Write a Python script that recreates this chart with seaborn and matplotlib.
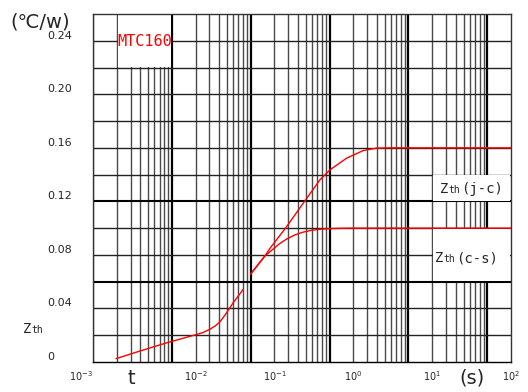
import matplotlib
matplotlib.use("Agg")
import matplotlib.pyplot as plt
import pandas as pd
import seaborn as sns

# Transient thermal impedance of the MTC160 module (time in s, Zth in °C/W)
t_start = [0.00098, 0.00197, 0.00434, 0.0098, 0.0124, 0.0152, 0.0176, 0.0204,
           0.0229, 0.0248, 0.0273, 0.0300, 0.0345, 0.0403]
z_start = [0.0025, 0.0082, 0.0144, 0.0202, 0.0220, 0.0245, 0.0268, 0.0301,
           0.0340, 0.0369, 0.0406, 0.0443, 0.0490, 0.0544]

t_jc = [0.05, 0.0759, 0.0879, 0.143, 0.232, 0.378, 0.507, 0.824, 1.34, 1.98, 2.93, 100]
z_jc = [0.0658, 0.0793, 0.0850, 0.1012, 0.1187, 0.1361, 0.1436, 0.1523, 0.1580,
        0.1598, 0.16, 0.16]

t_cs = [0.05, 0.0759, 0.118, 0.1442, 0.1823, 0.2303, 0.2995, 0.401, 0.5865, 0.908, 100]
z_cs = [0.0658, 0.0793, 0.0887, 0.0920, 0.0950, 0.0970, 0.0985, 0.0993, 0.0998,
        0.1, 0.1]

x_tick_pos = [5e-4, 1e-2, 1e-1, 1, 10, 100]
x_tick_labels = [r"$10^{-3}$", r"$10^{-2}$", r"$10^{-1}$", r"$10^{0}$", r"$10^{1}$", r"$10^{2}$"]
y_tick_pos = [0, 0.04, 0.08, 0.12, 0.16, 0.20, 0.24]
y_tick_labels = ["0", "0.04", "0.08", "0.12", "0.16", "0.20", "0.24"]

sns.set_style("white")
plt.rcParams["font.family"] = ["DejaVu Sans", "Noto Sans CJK SC"]

W, H = 528, 392
fig = plt.figure(figsize=(W / 100, H / 100), dpi=100)
ax = fig.add_axes([93 / W, 30 / H, 418 / W, 348 / H])
ax.set_xscale("log")
ax.set_xlim(5e-4, 100)
ax.set_ylim(0, 0.26)

# log-paper grid: cycles start at 5 x 10^k
for base in [5e-4, 5e-3, 5e-2, 0.5, 5, 50]:
    for m in range(1, 10):
        x = base * m
        if x >= 100:
            break
        if m == 1:
            ax.axvline(x, color="black", lw=1.6, zorder=1)
        else:
            ax.axvline(x, color="#4a4a4a", lw=1.0, zorder=1)
for i in range(1, 13):
    y = i * 0.02
    thick = i in (3, 6)
    ax.axhline(y, color="black" if thick else "#222222",
               lw=1.5 if thick else 1.0, zorder=1)

# white label panels over the grid
ax.fill_between([0.00103, 0.00488], 0.2206, 0.2594, color="white", lw=0, zorder=1.5)
ax.fill_between([10.3, 98], 0.1206, 0.1394, color="white", lw=0, zorder=1.5)
ax.fill_between([10.3, 98], 0.0606, 0.0995, color="white", lw=0, zorder=1.5)

# impedance curves
line_kw = dict(color="red", lw=1.0, estimator=None, sort=False, ax=ax, zorder=3)
sns.lineplot(data=pd.DataFrame({"t": t_start, "z": z_start}), x="t", y="z", **line_kw)
sns.lineplot(data=pd.DataFrame({"t": t_jc, "z": z_jc}), x="t", y="z", **line_kw)
sns.lineplot(data=pd.DataFrame({"t": t_cs, "z": z_cs}), x="t", y="z", **line_kw)
ax.set_xlabel("")
ax.set_ylabel("")

# ticks
ax.set_xticks(x_tick_pos, x_tick_labels)
ax.xaxis.set_minor_locator(matplotlib.ticker.NullLocator())
ax.set_yticks(y_tick_pos, y_tick_labels)
ax.tick_params(axis="x", length=0, pad=5, labelsize=7)
ax.tick_params(axis="y", length=0, pad=33, labelsize=8)
for lab in ax.get_yticklabels():
    lab.set_ha("left")
    lab.set_va("bottom")
ax.get_xticklabels()[0].set_ha("right")

for s in ax.spines.values():
    s.set_color("#333333")
    s.set_linewidth(1.0)
    s.set_zorder(4)
ax.spines["bottom"].set_color("black")

# annotations
mono = "DejaVu Sans Mono"
ax.text(0.00225, 0.2395, "MTC160", color="red", fontsize=11, family=mono,
        ha="center", va="center", zorder=5)


def px(x, y):
    return x / W, 1 - y / H


def zth(x, y, tail):
    fig.text(*px(x, y), "Z", fontsize=10, family=mono, va="baseline")
    fig.text(*px(x + 8, y), "th", fontsize=7, family=mono, va="baseline")
    if tail:
        fig.text(*px(x + 21, y), tail, fontsize=10, family=mono, va="baseline")


zth(440, 193, "(j-c)")
zth(435, 262, "(c-s)")
zth(23, 333, "")

fig.text(*px(40, 22), "(℃/w)", fontsize=14, ha="center", va="center")
fig.text(*px(131, 378), "t", fontsize=14, ha="center", va="center")
fig.text(*px(472, 378), "(s)", fontsize=14, ha="center", va="center")

fig.savefig("out.png", dpi=100, facecolor="white")
